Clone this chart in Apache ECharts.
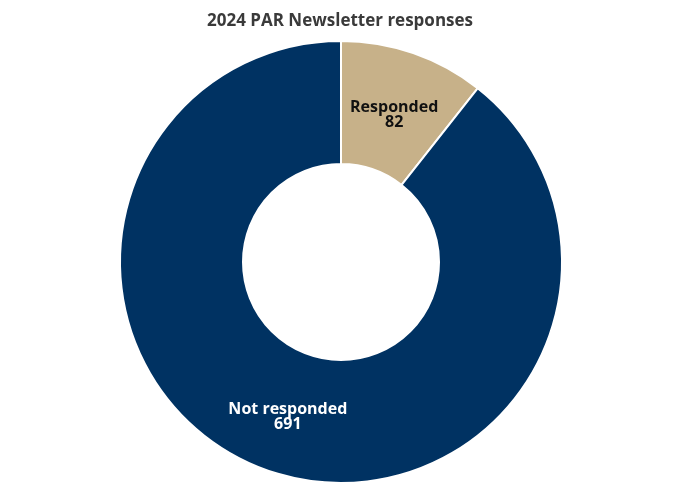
<!DOCTYPE html>
<html>
<head>
<meta charset="utf-8">
<script src="https://cdn.jsdelivr.net/npm/echarts@6/dist/echarts.min.js"></script>
<style>
  html, body { margin: 0; padding: 0; background: #fff; }
  #myChart { width: 680px; height: 492px; }
</style>
</head>
<body>
<div id="myChart"></div>
<script>
var categories = ['Responded', 'Not responded'];
var values = [82, 691];
var colors = ['#C7B189', '#003262'];
var labelColors = ['#111111', '#ffffff'];
// small nudges so labels sit where the reference puts them
var labelOffsets = [[0, 6], [0, 1]];

window.onload = function () {
    var myChart = echarts.init(document.getElementById('myChart'));

    var data = categories.map(function (name, i) {
        return {
            name: name,
            value: values[i],
            itemStyle: { color: colors[i] },
            label: { color: labelColors[i], offset: labelOffsets[i] }
        };
    });

    var option = {
        animation: false,
        title: {
            text: '2024 PAR Newsletter responses',
            left: 'center',
            top: 8,
            textStyle: {
                fontFamily: 'Open Sans',
                fontSize: 17,
                fontWeight: 'bold',
                color: '#3a3a3a'
            }
        },
        series: [
            {
                type: 'pie',
                center: [341, 262],
                radius: [98, 221],
                startAngle: 90,
                clockwise: true,
                data: data,
                itemStyle: {
                    borderColor: '#ffffff',
                    borderWidth: 2
                },
                label: {
                    show: true,
                    position: 'inside',
                    formatter: '{b}\n{c}',
                    fontFamily: 'Open Sans',
                    fontSize: 16,
                    fontWeight: 'bold',
                    lineHeight: 15
                },
                labelLine: { show: false },
                emphasis: { disabled: true }
            }
        ]
    };
    myChart.setOption(option);
};
</script>
</body>
</html>
